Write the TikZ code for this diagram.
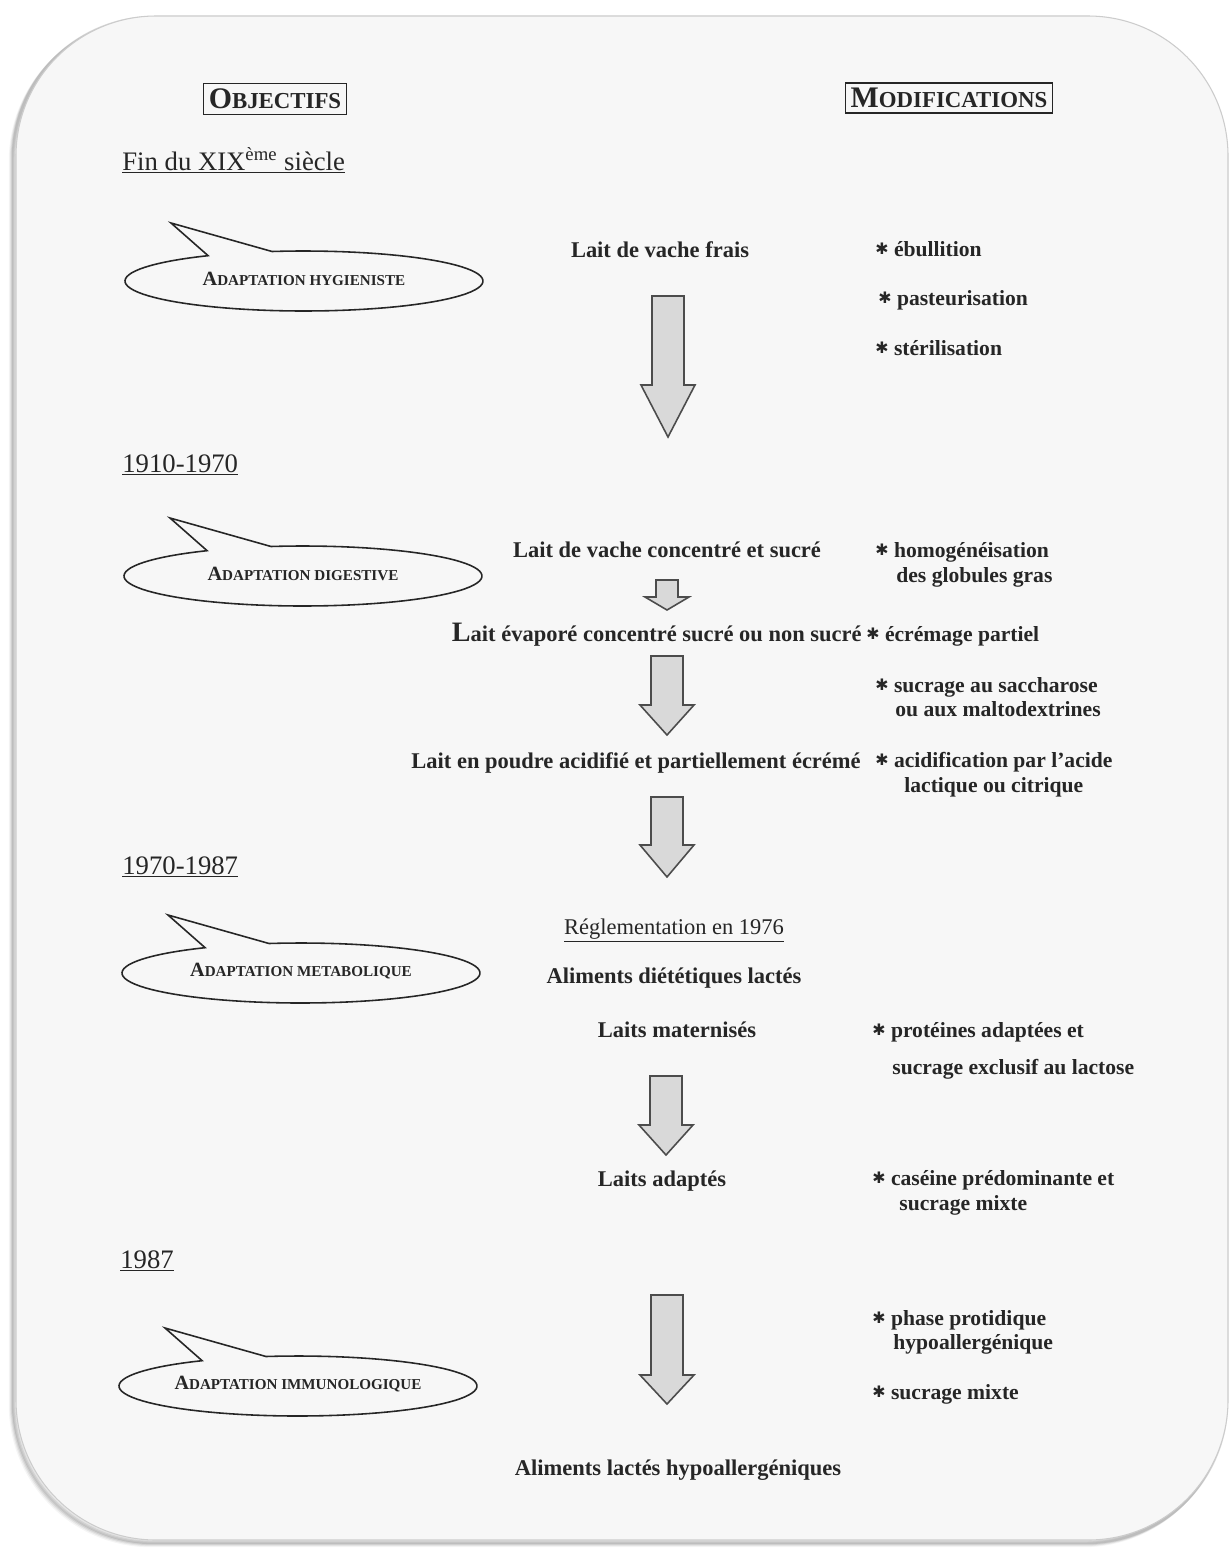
\documentclass[tikz,border=0pt]{standalone}
\usepackage{fontspec}
\setmainfont{Liberation Serif}
\newfontfamily\symb{DejaVu Sans}
\definecolor{fond}{HTML}{F7F7F7}
\definecolor{encre}{HTML}{262626}
\newcommand{\etoile}{\raisebox{0.2ex}{\symb\fontsize{9}{9}\selectfont ✱}}
\newcommand{\capa}[2]{{\fontsize{11.5}{13}\selectfont #1}{\fontsize{8.6}{10}\selectfont #2}}
\newcommand{\capb}[2]{{\fontsize{17}{20}\selectfont #1}{\fontsize{13}{15}\selectfont #2}}
\newcommand{\fleche}[5]{\draw[fleche] (#1-#2,#3) -- (#1+#2,#3) -- (#1+#2,#4) -- (#1+#2+11,#4) -- (#1,#5) -- (#1-#2-11,#4) -- (#1-#2,#4) -- cycle;}
\newcommand{\bulle}[4]{%
  \draw[bulle] ({#2+179*cos(237.6)},{#3+30*sin(237.6)}) -- (#2-133,#3-58) -- ({#2+179*cos(259.7)},{#3+30*sin(259.7)})
    -- plot[domain=259.7:597.6,samples=90,variable=\t] ({#2+179*cos(\t)},{#3+30*sin(\t)}) -- cycle;
  \node[font=\bfseries,text=encre,inner sep=0pt] (#1) at (#2,#3-2) {#4};}
\begin{document}
\begin{tikzpicture}[x=0.02cm,y=-0.02cm,
    etape/.style={font=\fontsize{12.8}{14}\selectfont\bfseries,inner sep=0pt,text=encre,anchor=base},
    modif/.style={etape,font=\fontsize{12.3}{14}\selectfont\bfseries,anchor=base west},
    periode/.style={font=\fontsize{15.2}{18}\selectfont,inner sep=0pt,text=encre,anchor=base west},
    titre/.style={draw=encre,line width=0.9pt,inner sep=3pt,text=encre,font=\bfseries},
    fleche/.style={draw=black!70,fill=black!15,line width=0.9pt,line join=miter},
    bulle/.style={draw=encre,fill=fond,line width=0.9pt}]
    \useasboundingbox (0,0) rectangle (1231,1549);
    \fill[white] (0,0) rectangle (1231,1549);
    \foreach \d/\o in {5/0.04,4/0.06,3/0.08,2/0.1} \draw[black,opacity=\o,line width=2.5pt,rounded corners=2.8cm] (16-\d,16+\d) rectangle (1228-\d,1540+\d);
    \draw[black!20,fill=fond,line width=0.6pt,rounded corners=2.8cm] (16,16) rectangle (1228,1540);

    \node[titre] (obj) at (275,99) {\capb{O}{BJECTIFS}};
    \node[titre] (mod) at (949,98) {\capb{M}{ODIFICATIONS}};

    \node[periode] (p1) at (122,170) {\underline{Fin du XIX\textsuperscript{ème} siècle}};
    \node[periode] (p2) at (122,472) {\underline{1910-1970}};
    \node[periode] (p3) at (122,874) {\underline{1970-1987}};
    \node[periode] (p4) at (120,1268) {\underline{1987}};

    \bulle{hyg}{304}{281}{\capa{A}{DAPTATION HYGIENISTE}}
    \bulle{dig}{303}{576}{\capa{A}{DAPTATION DIGESTIVE}}
    \bulle{met}{301}{973}{\capa{A}{DAPTATION METABOLIQUE}}
    \bulle{imm}{298}{1386}{\capa{A}{DAPTATION IMMUNOLOGIQUE}}

    \node[etape] (lvf) at (660,257) {Lait de vache frais};
    \node[etape] (lvcs) at (667,557) {Lait de vache concentré et sucré};
    \node[etape,anchor=base east] (lecs) at (862,641) {{\fontsize{16}{16}\selectfont L}ait évaporé concentré sucré ou non sucré};
    \node[etape,anchor=base east] (lpae) at (861,768) {Lait en poudre acidifié et partiellement écrémé};
    \node[etape,font=\fontsize{12.8}{14}\selectfont] (regl) at (674,934) {\underline{Réglementation en 1976}};
    \node[etape] (adl) at (674,983) {Aliments diététiques lactés};
    \node[etape] (lm) at (677,1037) {Laits maternisés};
    \node[etape] (la) at (662,1186) {Laits adaptés};
    \node[etape] (alh) at (678,1475) {Aliments lactés hypoallergéniques};

    \fleche{668}{16}{296}{385}{437}
    \fleche{667}{11}{580}{597}{610}
    \fleche{667}{16}{656}{705}{735}
    \fleche{667}{16}{797}{845}{877}
    \fleche{666}{16}{1076}{1125}{1155}
    \fleche{667}{16}{1295}{1375}{1404}

    \node[modif] (m1) at (875,256) {\etoile\ ébullition};
    \node[modif] (m2) at (878,305) {\etoile\ pasteurisation};
    \node[modif] (m3) at (875,355) {\etoile\ stérilisation};
    \node[modif] (m4) at (875,557) {\etoile\ homogénéisation};
    \node[modif] (m4b) at (896,582) {des globules gras};
    \node[modif] (m5) at (866,641) {\etoile\ écrémage partiel};
    \node[modif] (m6) at (875,692) {\etoile\ sucrage au saccharose};
    \node[modif] (m6b) at (895,716) {ou aux maltodextrines};
    \node[modif] (m7) at (875,767) {\etoile\ acidification par l'acide};
    \node[modif] (m7b) at (904,792) {lactique ou citrique};
    \node[modif] (m8) at (872,1037) {\etoile\ protéines adaptées et};
    \node[modif] (m8b) at (892,1074) {sucrage exclusif au lactose};
    \node[modif] (m9) at (872,1185) {\etoile\ caséine prédominante et};
    \node[modif] (m9b) at (899,1210) {sucrage mixte};
    \node[modif] (m10) at (872,1325) {\etoile\ phase protidique};
    \node[modif] (m10b) at (893,1349) {hypoallergénique};
    \node[modif] (m11) at (872,1399) {\etoile\ sucrage mixte};
\end{tikzpicture}
\end{document}
